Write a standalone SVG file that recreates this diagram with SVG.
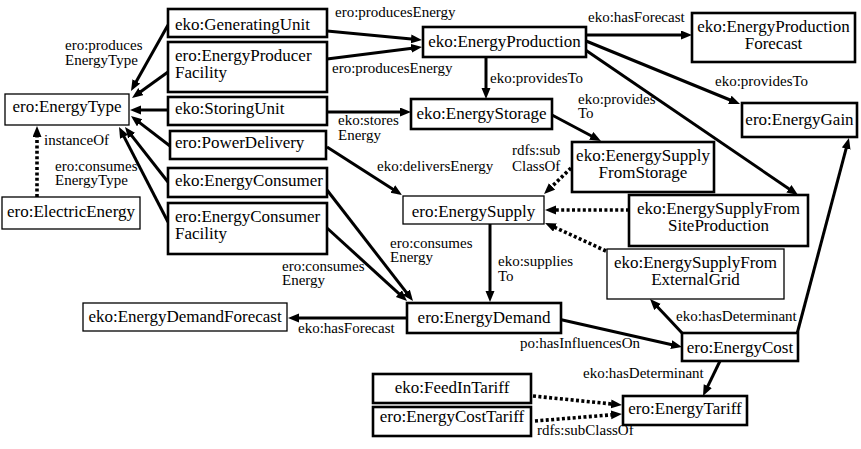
<svg xmlns="http://www.w3.org/2000/svg" width="861" height="449" viewBox="0 0 861 449">
<style>
.n rect{fill:#fff;stroke:#000;stroke-width:2.6}
.n.t rect{stroke-width:1.3}
.c{text-anchor:middle}
.e line{stroke:#000;stroke-width:3;fill:none}
.e line.d{stroke-width:3.6;stroke-dasharray:3 2.4}
</style>
<defs>
<marker id="a" markerUnits="userSpaceOnUse" markerWidth="12" markerHeight="10" refX="3" refY="4.5" orient="auto">
<path d="M0,0 L11,4.5 L0,9 z" fill="#000"/>
</marker>
</defs>
<rect width="861" height="449" fill="#fff"/>
<g class="e">
<line x1="168" y1="25" x2="134.9" y2="84" marker-end="url(#a)"/>
<line x1="168" y1="72" x2="138.5" y2="93.3" marker-end="url(#a)"/>
<line x1="168" y1="110" x2="138" y2="110" marker-end="url(#a)"/>
<line x1="170" y1="146" x2="137.3" y2="120.9" marker-end="url(#a)"/>
<line x1="168" y1="182" x2="129.9" y2="133.3" marker-end="url(#a)"/>
<line x1="168" y1="222" x2="122.7" y2="134.1" marker-end="url(#a)"/>
<line class="d" x1="37" y1="197" x2="37" y2="134" marker-end="url(#a)"/>
<line x1="327" y1="31" x2="414" y2="39.25" marker-end="url(#a)"/>
<line x1="327" y1="59" x2="414.1" y2="48" marker-end="url(#a)"/>
<line x1="486" y1="57" x2="486" y2="91" marker-end="url(#a)"/>
<line x1="327" y1="112" x2="403" y2="112" marker-end="url(#a)"/>
<line x1="586" y1="35" x2="684" y2="35" marker-end="url(#a)"/>
<line x1="586" y1="41" x2="732.6" y2="101" marker-end="url(#a)"/>
<line x1="584" y1="49" x2="791.4" y2="190.5" marker-end="url(#a)"/>
<line x1="552" y1="115" x2="593.9" y2="137.3" marker-end="url(#a)"/>
<line x1="327" y1="147" x2="395.3" y2="190.7" marker-end="url(#a)"/>
<line x1="327" y1="190" x2="408.1" y2="294.7" marker-end="url(#a)"/>
<line x1="327" y1="228" x2="401.1" y2="295.6" marker-end="url(#a)"/>
<line x1="490" y1="224" x2="490" y2="294" marker-end="url(#a)"/>
<line class="d" x1="571" y1="168" x2="549.8" y2="188.5" marker-end="url(#a)"/>
<line class="d" x1="629" y1="210" x2="553" y2="210" marker-end="url(#a)"/>
<line class="d" x1="606" y1="251" x2="552.3" y2="226.3" marker-end="url(#a)"/>
<line x1="407" y1="318" x2="296" y2="318" marker-end="url(#a)"/>
<line x1="558" y1="319" x2="674.2" y2="345.2" marker-end="url(#a)"/>
<line x1="683" y1="334" x2="655.5" y2="304.8" marker-end="url(#a)"/>
<line x1="797" y1="334" x2="846.9" y2="145.7" marker-end="url(#a)"/>
<line x1="720" y1="361" x2="706.5" y2="388.8" marker-end="url(#a)"/>
<line class="d" x1="533" y1="396" x2="614" y2="404.2" marker-end="url(#a)"/>
<line class="d" x1="535" y1="421" x2="614" y2="414.6" marker-end="url(#a)"/>
</g>
<g class="l" font-family="Liberation Serif" font-size="15" fill="#000">
<text x="65" y="50">ero:produces</text>
<text x="65" y="65">EnergyType</text>
<text x="44" y="145">instanceOf</text>
<text x="55" y="171">ero:consumes</text>
<text x="55" y="185">EnergyType</text>
<text x="335" y="17">ero:producesEnergy</text>
<text x="332" y="73">ero:producesEnergy</text>
<text x="490" y="83">eko:providesTo</text>
<text x="338" y="125">eko:stores</text>
<text x="338" y="140">Energy</text>
<text x="588" y="22">eko:hasForecast</text>
<text x="715" y="86">eko:providesTo</text>
<text x="578" y="104">eko:provides</text>
<text x="578" y="118">To</text>
<text x="377" y="171">eko:deliversEnergy</text>
<text x="512" y="155">rdfs:sub</text>
<text x="512" y="171">ClassOf</text>
<text x="390" y="248">ero:consumes</text>
<text x="390" y="262">Energy</text>
<text x="282" y="271">ero:consumes</text>
<text x="282" y="285">Energy</text>
<text x="498" y="266">eko:supplies</text>
<text x="498" y="281">To</text>
<text x="298" y="333">eko:hasForecast</text>
<text x="520" y="348">po:hasInfluencesOn</text>
<text x="676" y="321">eko:hasDeterminant</text>
<text x="583" y="378">eko:hasDeterminant</text>
<text x="537" y="435">rdfs:subClassOf</text>
</g>
<g font-family="Liberation Serif" font-size="17" fill="#000">
<g id="energyType" class="n t"><rect x="5" y="94" width="124" height="31"/><text class="c" x="67" y="112">ero:EnergyType</text></g>
<g id="electricEnergy" class="n t"><rect x="2" y="197" width="138" height="32"/><text class="c" x="71" y="217">ero:ElectricEnergy</text></g>
<g id="generatingUnit" class="n"><rect x="168" y="9" width="159" height="28"/><text x="175" y="29.5">eko:GeneratingUnit</text></g>
<g id="energyProducerFacility" class="n"><rect x="168" y="42" width="159" height="50"/><text x="175" y="60.5">ero:EnergyProducer</text><text x="175" y="77.5">Facility</text></g>
<g id="storingUnit" class="n"><rect x="168" y="97" width="159" height="28"/><text x="175" y="114">eko:StoringUnit</text></g>
<g id="powerDelivery" class="n"><rect x="170" y="131" width="156" height="28"/><text x="175" y="148">ero:PowerDelivery</text></g>
<g id="energyConsumer" class="n"><rect x="168" y="168" width="159" height="29"/><text x="175" y="186">eko:EnergyConsumer</text></g>
<g id="energyConsumerFacility" class="n"><rect x="168" y="203" width="159" height="51"/><text x="175" y="221.5">ero:EnergyConsumer</text><text x="175" y="239">Facility</text></g>
<g id="energyProduction" class="n"><rect x="423" y="27" width="163" height="30"/><text class="c" x="504.5" y="46.5">eko:EnergyProduction</text></g>
<g id="energyStorage" class="n"><rect x="411" y="99" width="141" height="30"/><text class="c" x="481.5" y="119">eko:EnergyStorage</text></g>
<g id="energyProductionForecast" class="n"><rect x="692" y="13" width="163" height="49"/><text class="c" x="773.5" y="32">eko:EnergyProduction</text><text class="c" x="773.5" y="49">Forecast</text></g>
<g id="energyGain" class="n"><rect x="742" y="103" width="115" height="34"/><text class="c" x="799.5" y="125">ero:EnergyGain</text></g>
<g id="supplyFromStorage" class="n"><rect x="572" y="142" width="142" height="50"/><text class="c" x="643" y="161">eko:EenergySupply</text><text class="c" x="643" y="178">FromStorage</text></g>
<g id="supplyFromSiteProduction" class="n"><rect x="629" y="195" width="179" height="51"/><text class="c" x="718.5" y="214">eko:EnergySupplyFrom</text><text class="c" x="718.5" y="231">SiteProduction</text></g>
<g id="supplyFromExternalGrid" class="n t"><rect x="607" y="249" width="177" height="50"/><text class="c" x="695.5" y="268">eko:EnergySupplyFrom</text><text class="c" x="695.5" y="285">ExternalGrid</text></g>
<g id="energySupply" class="n t"><rect x="403" y="196" width="141" height="28"/><text class="c" x="473.5" y="216.5">ero:EnergySupply</text></g>
<g id="energyDemand" class="n"><rect x="407" y="303" width="154" height="30"/><text class="c" x="484" y="323">ero:EnergyDemand</text></g>
<g id="energyDemandForecast" class="n t"><rect x="83" y="303" width="204" height="28"/><text class="c" x="185" y="322">eko:EnergyDemandForecast</text></g>
<g id="energyCost" class="n"><rect x="682" y="333" width="116" height="28"/><text class="c" x="740" y="353">ero:EnergyCost</text></g>
<g id="feedInTariff" class="n"><rect x="373" y="374" width="158" height="29"/><text class="c" x="452" y="393">eko:FeedInTariff</text></g>
<g id="energyCostTariff" class="n"><rect x="373" y="407" width="158" height="29"/><text class="c" x="452" y="421.5">ero:EnergyCostTariff</text></g>
<g id="energyTariff" class="n"><rect x="623" y="396" width="124" height="29"/><text class="c" x="685" y="414">ero:EnergyTariff</text></g>
</g>
</svg>
